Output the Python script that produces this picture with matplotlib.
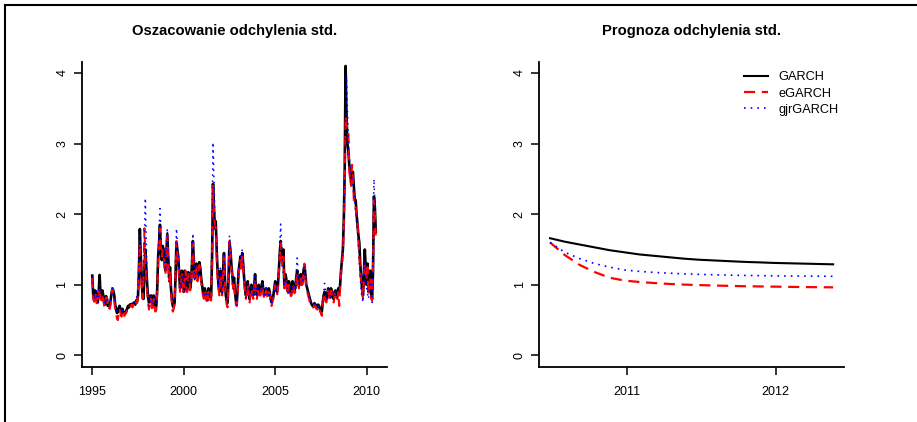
import numpy as np
import matplotlib
matplotlib.use("Agg")
import matplotlib.pyplot as plt
from matplotlib.lines import Line2D

plt.rcParams['font.family'] = ['Liberation Sans', 'DejaVu Sans']

# ---------------- data ----------------
# in-sample estimates, 0.05-year step from 1995.00 (rows = one year each)
est_start = 1995.0
est_step = 0.05
garch_est = [
    1.13, 0.85, 0.78, 0.92, 0.88, 0.76, 0.75, 0.90, 1.14, 0.85, 0.80, 0.92, 0.85, 0.74, 0.72, 0.84, 0.80, 0.70, 0.72, 0.70,
    0.78, 0.88, 0.95, 0.92, 0.85, 0.72, 0.65, 0.60, 0.62, 0.68, 0.70, 0.63, 0.60, 0.66, 0.62, 0.59, 0.60, 0.62, 0.66, 0.70,
    0.68, 0.72, 0.70, 0.73, 0.70, 0.74, 0.75, 0.72, 0.78, 0.76, 0.85, 1.20, 1.79, 1.40, 1.10, 0.85, 0.80, 1.20, 1.50, 1.25,
    1.00, 0.82, 0.75, 0.80, 0.85, 0.76, 0.72, 0.85, 0.80, 0.68, 0.70, 0.95, 1.40, 1.60, 1.85, 1.45, 1.35, 1.55, 1.50, 1.30,
    1.20, 1.45, 1.72, 1.40, 1.10, 1.25, 0.95, 0.80, 0.70, 0.68, 0.75, 1.10, 1.60, 1.50, 1.40, 1.15, 0.95, 1.10, 1.20, 1.00,
    0.90, 1.20, 1.15, 0.92, 0.95, 1.18, 1.10, 0.95, 1.05, 1.30, 1.62, 1.35, 1.10, 1.20, 1.30, 1.10, 1.15, 1.32, 1.25, 1.10,
    1.00, 0.90, 0.85, 0.95, 0.90, 0.80, 0.80, 0.95, 0.90, 0.82, 0.85, 1.40, 2.43, 2.10, 1.80, 1.90, 1.50, 1.20, 1.00, 0.90,
    1.20, 1.05, 0.90, 1.20, 1.45, 1.10, 0.85, 0.78, 0.75, 1.10, 1.60, 1.50, 1.30, 1.15, 1.00, 1.10, 0.90, 0.78, 0.75, 0.95,
    1.20, 1.30, 1.40, 1.25, 1.45, 1.30, 1.10, 0.95, 0.85, 0.95, 1.05, 0.90, 0.80, 0.92, 1.00, 0.90, 0.85, 0.98, 1.15, 0.95,
    0.85, 0.92, 1.00, 0.88, 0.90, 0.98, 1.05, 0.92, 0.85, 0.88, 0.95, 0.90, 0.85, 0.95, 0.90, 0.80, 0.75, 0.80, 0.85, 0.95,
    1.05, 0.95, 0.90, 1.00, 1.20, 1.45, 1.62, 1.40, 1.30, 1.50, 1.00, 1.15, 1.10, 0.95, 0.90, 1.05, 1.00, 0.88, 0.90, 1.05,
    1.00, 0.92, 0.95, 1.10, 1.20, 1.05, 1.00, 1.10, 1.15, 1.00, 1.05, 1.20, 1.28, 1.15, 1.00, 0.95, 0.90, 0.85, 0.80, 0.75,
    0.72, 0.70, 0.70, 0.74, 0.72, 0.69, 0.68, 0.72, 0.70, 0.66, 0.65, 0.62, 0.75, 0.85, 0.90, 0.82, 0.80, 0.88, 0.95, 0.85,
    0.82, 0.95, 0.90, 0.82, 0.80, 0.90, 0.92, 0.85, 0.85, 0.95, 0.90, 1.00, 1.20, 1.35, 1.50, 1.90, 2.60, 4.10, 3.40, 3.00,
    2.90, 2.70, 2.60, 2.45, 2.55, 2.60, 2.40, 2.20, 2.20, 2.00, 1.85, 1.70, 1.60, 1.30, 1.10, 0.95, 0.85, 1.15, 1.50, 1.25,
    1.00, 1.30, 0.90, 1.05, 1.20, 0.85, 0.80, 1.20, 2.25, 2.10, 1.75]
egarch_est = [
    1.10, 0.82, 0.76, 0.88, 0.85, 0.72, 0.72, 0.85, 0.95, 0.82, 0.78, 0.88, 0.80, 0.70, 0.70, 0.82, 0.82, 0.66, 0.68, 0.66,
    0.72, 0.85, 0.95, 0.90, 0.80, 0.66, 0.60, 0.52, 0.50, 0.62, 0.66, 0.58, 0.55, 0.64, 0.62, 0.56, 0.58, 0.60, 0.64, 0.68,
    0.66, 0.70, 0.70, 0.72, 0.68, 0.72, 0.74, 0.70, 0.76, 0.74, 0.90, 1.30, 1.60, 1.25, 0.95, 0.80, 1.10, 1.80, 1.40, 1.10,
    0.90, 0.75, 0.65, 0.72, 0.80, 0.70, 0.62, 0.80, 0.78, 0.62, 0.65, 0.90, 1.30, 1.55, 1.80, 1.50, 1.40, 1.50, 1.45, 1.25,
    1.15, 1.40, 1.70, 1.35, 1.05, 1.20, 0.90, 0.75, 0.62, 0.66, 0.75, 1.15, 1.62, 1.45, 1.35, 1.10, 0.90, 1.05, 1.15, 0.95,
    0.88, 1.15, 1.20, 0.90, 0.90, 1.15, 1.15, 0.92, 1.00, 1.25, 1.60, 1.30, 1.05, 1.15, 1.25, 1.05, 1.10, 1.28, 1.20, 1.05,
    0.95, 0.85, 0.80, 0.92, 0.88, 0.75, 0.72, 0.90, 0.85, 0.78, 0.78, 1.50, 2.40, 2.00, 1.85, 1.80, 1.40, 1.10, 0.95, 0.85,
    1.15, 1.00, 0.85, 1.15, 1.40, 1.05, 0.80, 0.72, 0.68, 1.15, 1.62, 1.45, 1.25, 1.10, 0.95, 1.05, 0.85, 0.72, 0.70, 0.90,
    1.15, 1.25, 1.35, 1.20, 1.40, 1.25, 1.05, 0.90, 0.80, 0.90, 1.00, 0.85, 0.75, 0.88, 0.95, 0.85, 0.80, 0.95, 1.10, 0.90,
    0.80, 0.88, 0.95, 0.85, 0.85, 0.95, 1.00, 0.88, 0.80, 0.85, 0.92, 0.85, 0.80, 0.90, 0.88, 0.76, 0.70, 0.76, 0.80, 0.92,
    1.00, 0.90, 0.85, 0.95, 1.15, 1.40, 1.60, 1.35, 1.25, 1.40, 0.95, 1.10, 1.05, 0.90, 0.85, 1.00, 0.95, 0.84, 0.85, 1.00,
    0.98, 0.88, 0.90, 1.05, 1.15, 1.00, 0.95, 1.05, 1.10, 0.95, 1.00, 1.20, 1.30, 1.10, 0.95, 0.90, 0.85, 0.80, 0.75, 0.70,
    0.70, 0.68, 0.68, 0.72, 0.70, 0.66, 0.65, 0.70, 0.68, 0.62, 0.60, 0.56, 0.72, 0.82, 0.88, 0.78, 0.75, 0.85, 0.92, 0.82,
    0.78, 0.92, 0.88, 0.78, 0.75, 0.86, 0.90, 0.82, 0.80, 0.90, 0.70, 0.95, 1.15, 1.30, 1.45, 1.80, 2.40, 3.40, 3.30, 3.20,
    3.20, 2.60, 2.50, 2.40, 2.70, 2.50, 2.20, 2.10, 2.10, 1.95, 1.90, 1.60, 1.40, 1.20, 1.05, 0.90, 0.80, 1.10, 1.30, 1.20,
    1.10, 1.25, 0.85, 1.00, 1.10, 0.80, 0.78, 1.30, 2.20, 2.00, 1.70]
# gjrGARCH estimates, 0.1-year step from 1995.0
gjr_start = 1995.0
gjr_step = 0.1
gjr_est = [1.12, 0.80, 0.92, 0.75, 1.00, 0.80, 0.85, 0.72, 0.82, 0.70,
           0.75, 0.95, 0.82, 0.62, 0.68, 0.72, 0.60, 0.65, 0.62, 0.68,
           0.70, 0.72, 0.72, 0.76, 0.78, 0.95, 1.70, 1.00, 1.20, 2.23,
           1.00, 0.70, 0.85, 0.70, 0.82, 0.72, 1.40, 2.08, 1.45, 1.50,
           1.20, 1.80, 1.05, 0.95, 0.72, 0.78, 1.80, 1.40, 0.95, 1.20,
           0.90, 1.15, 0.92, 1.15, 1.02, 1.73, 1.08, 1.30, 1.12, 1.22,
           0.95, 0.82, 0.90, 0.78, 0.88, 0.82, 3.02, 2.00, 1.50, 0.95,
           1.25, 0.85, 1.45, 0.82, 0.72, 1.70, 1.30, 0.95, 0.88, 0.70,
           1.20, 1.40, 1.50, 1.10, 0.82, 1.05, 0.78, 1.00, 0.82, 1.12,
           0.82, 0.98, 0.88, 1.02, 0.82, 0.95, 0.82, 0.90, 0.72, 0.82,
           1.02, 0.88, 1.20, 1.86, 1.30, 0.98, 1.08, 0.88, 0.98, 0.88,
           1.00, 0.92, 1.38, 0.98, 1.12, 1.02, 1.25, 0.98, 0.88, 0.78,
           0.72, 0.70, 0.72, 0.68, 0.70, 0.65, 0.74, 1.02, 0.78, 0.95,
           0.80, 0.90, 0.78, 0.92, 0.82, 0.88, 1.20, 1.50, 2.50, 3.95,
           3.05, 2.60, 2.50, 2.30, 2.05, 1.75, 1.35, 0.90, 0.75, 1.35,
           0.95, 0.80, 1.05, 0.75, 2.50, 1.78]

# forecasts, 0.1-year step from 2010.485
fc_start = 2010.485
fc_step = 0.1
garch_fc = [1.66, 1.61, 1.57, 1.53, 1.49, 1.46, 1.43, 1.41, 1.39, 1.37,
            1.355, 1.345, 1.335, 1.325, 1.318, 1.31, 1.305, 1.30, 1.295, 1.29]
egarch_fc = [1.60, 1.42, 1.28, 1.18, 1.10, 1.06, 1.04, 1.025, 1.012, 1.003,
             0.996, 0.99, 0.985, 0.98, 0.977, 0.974, 0.971, 0.968, 0.966, 0.964]
gjr_fc = [1.60, 1.46, 1.37, 1.30, 1.25, 1.21, 1.19, 1.175, 1.165, 1.155,
          1.148, 1.142, 1.137, 1.133, 1.13, 1.127, 1.125, 1.123, 1.122, 1.12]

labels = ["GARCH", "eGARCH", "gjrGARCH"]
titles = ["Oszacowanie odchylenia std.", "Prognoza odchylenia std."]
yticks = [0, 1, 2, 3, 4]
xticks_left = [1995, 2000, 2005, 2010]
xticks_right = [2011, 2012]

t_est = est_start + est_step * np.arange(len(garch_est))
t_gjr = gjr_start + gjr_step * np.arange(len(gjr_est))
t_fc = fc_start + fc_step * np.arange(len(garch_fc))

# ---------------- figure ----------------
W, H = 917, 422
fig = plt.figure(figsize=(W / 100, H / 100), dpi=100)

def px_rect(x0, x1, ytop, ybot):
    return [x0 / W, 1 - ybot / H, (x1 - x0) / W, (ybot - ytop) / H]

axL = fig.add_axes(px_rect(81.7, 387.3, 61.7, 366.7))
axR = fig.add_axes(px_rect(539.0, 844.3, 61.7, 366.7))

def style(ax):
    for s in ['top', 'right']:
        ax.spines[s].set_visible(False)
    for s in ['left', 'bottom']:
        ax.spines[s].set_linewidth(1.3)
    ax.set_ylim(-0.16, 4.16)
    ax.set_yticks(yticks)
    ax.tick_params(axis='both', direction='out', length=5.8, width=1.1,
                   labelsize=9, color='black')
    ax.tick_params(axis='x', pad=8)
    ax.tick_params(axis='y', pad=3.8, labelrotation=90)
    for lab in ax.get_yticklabels():
        lab.set_verticalalignment('center')

dash = (5, 3)
dot = (1, 3)

# left panel
axL.plot(t_est, garch_est, color='black', lw=1.9)
axL.plot(t_est, egarch_est, color='red', lw=1.5, linestyle=(0, dash))
axL.plot(t_gjr, gjr_est, color='blue', lw=1.1, linestyle=(0, dot))
axL.set_xlim(1994.42, 2011.13)
axL.set_xticks(xticks_left)
style(axL)

# right panel
axR.plot(t_fc, garch_fc, color='black', lw=1.5, label=labels[0])
axR.plot(t_fc, egarch_fc, color='red', lw=1.6, linestyle=(0, dash), label=labels[1])
axR.plot(t_fc, gjr_fc, color='blue', lw=1.2, linestyle=(0, dot), label=labels[2])
axR.set_xlim(2010.411, 2012.46)
axR.set_xticks(xticks_right)
style(axR)

leg = axR.legend(loc='upper left', bbox_to_anchor=(743.5 / W, 1 - 71.5 / H),
                 bbox_transform=fig.transFigure, frameon=False, fontsize=9.2,
                 handlelength=1.9, handletextpad=0.86, labelspacing=0.33,
                 borderpad=0, borderaxespad=0)

# titles
fig.text((81.7 + 387.3) / 2 / W, 1 - 31 / H, titles[0], ha='center', va='center',
         fontsize=10.6, fontweight='bold')
fig.text((539.0 + 844.3) / 2 / W, 1 - 31 / H, titles[1], ha='center', va='center',
         fontsize=10.6, fontweight='bold')

# outer frame (top and left edges)
fig.add_artist(Line2D([5 / W, 1], [1 - 5 / H, 1 - 5 / H], transform=fig.transFigure,
                      color='black', lw=1.5))
fig.add_artist(Line2D([5 / W, 5 / W], [0, 1 - 5 / H], transform=fig.transFigure,
                      color='black', lw=1.5))

fig.savefig("out.png", dpi=100)
